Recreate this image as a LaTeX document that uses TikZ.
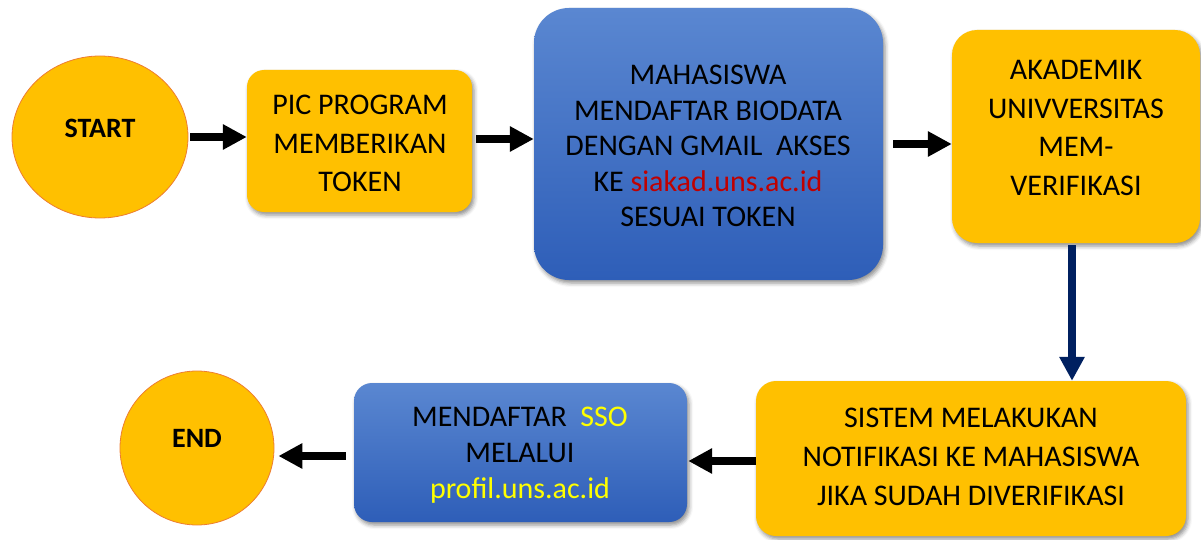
\documentclass[tikz,border=0pt]{standalone}
\usepackage{fontspec}
\setmainfont{Carlito}
\usetikzlibrary{arrows.meta,shadows.blur,calc,shapes.geometric}
\definecolor{gold}{HTML}{FFC000}
\definecolor{orng}{HTML}{ED7D31}
\definecolor{bluetop}{HTML}{5A87D1}
\definecolor{bluebot}{HTML}{2E5EB8}
\definecolor{navy}{HTML}{002060}
\definecolor{redtxt}{HTML}{C00000}
\definecolor{yel}{HTML}{FFFF00}
\begin{document}
\begin{tikzpicture}[x=1pt,y=-1pt,
 box/.style={rectangle, draw=none, inner sep=0pt, blur shadow={shadow xshift=2pt,shadow yshift=-3pt,shadow blur radius=4pt,shadow opacity=45}},
 ybox/.style={box, fill=gold},
 bbox/.style={box, top color=bluetop, bottom color=bluebot},
 term/.style={ellipse, fill=gold, draw=orng, line width=0.8pt, inner sep=0pt},
 txt/.style={align=center, font=\fontsize{30}{38.5}\selectfont, inner sep=0pt},
 arr/.style={line width=8pt, -{Triangle[length=24pt,width=24pt]}},
]
\useasboundingbox (0,0) rectangle (1201,540);
% shapes
\node[term, minimum width=176pt, minimum height=162pt] (start) at (100,137) {};
\node[txt, font=\fontsize{28}{34}\selectfont\bfseries] (starttxt) at (100,128) {START};
\node[ybox, rounded corners=17pt, minimum width=225pt, minimum height=142pt] (pic) at (359.5,141) {};
\node[txt] (pictxt) at (360,143.5) {PIC PROGRAM\\MEMBERIKAN\\TOKEN};
\node[bbox, rounded corners=35pt, minimum width=349pt, minimum height=272pt] (big) at (708.5,144) {};
\node[txt, font=\fontsize{30}{35.5}\selectfont] (bigtxt) at (708,146) {MAHASISWA\\MENDAFTAR BIODATA\\DENGAN GMAIL\ \ AKSES\\KE \textcolor{redtxt}{siakad.uns.ac.id}\\SESUAI TOKEN};
\node[ybox, rounded corners=25pt, minimum width=248pt, minimum height=213pt] (aka) at (1076,136.5) {};
\node[txt] (akatxt) at (1076,128) {AKADEMIK\\UNIVVERSITAS\\MEM-\\VERIFIKASI};
\node[ybox, rounded corners=20pt, minimum width=430pt, minimum height=155pt] (sis) at (971,458.5) {};
\node[txt, font=\fontsize{30}{39}\selectfont] (sistxt) at (971,457) {SISTEM MELAKUKAN\\NOTIFIKASI KE MAHASISWA\\JIKA SUDAH DIVERIFIKASI};
\node[bbox, rounded corners=18pt, minimum width=333pt, minimum height=139pt] (sso) at (520.5,452.5) {};
\node[txt, font=\fontsize{30}{36}\selectfont] (ssotxt) at (520,455) {MENDAFTAR\ \ \textcolor{yel}{SSO}\\MELALUI\\\textcolor{yel}{profil.uns.ac.id}};
\node[term, minimum width=154pt, minimum height=154pt] (end) at (197,448) {};
\node[txt, font=\fontsize{28}{34}\selectfont\bfseries] (endtxt) at (197,438) {END};
% connectors
\draw[arr] ([xshift=2pt]start.east) -- (start.east -| pic.west);
\draw[arr] ($(pic.east)+(4,-2)$) -- ($(pic.east -| big.west)+(0,-2)$);
\draw[arr] ($(big.east)+(10,0)$) -- (big.east -| aka.west);
\draw[arr, draw=navy, fill=navy] ($(aka.south)+(-4,2)$) -- ($(aka.south |- sis.north)+(-4,0)$);
\draw[arr] ($(sis.west)+(0,2.5)$) -- ($(sis.west -| sso.east)+(1,2.5)$);
\draw[arr] ($(sso.west)+(-8,3.5)$) -- ($(end.east)+(4,8)$);
\end{tikzpicture}
\end{document}
